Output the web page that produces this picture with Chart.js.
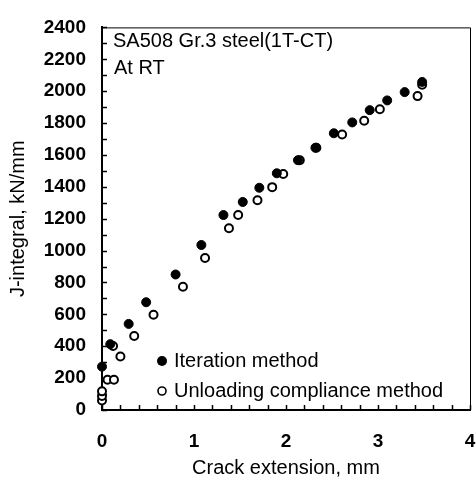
<!DOCTYPE html>
<html>
<head>
<meta charset="utf-8">
<script src="https://cdn.jsdelivr.net/npm/chart.js@4"></script>
<style>
  html, body { margin: 0; padding: 0; background: #fff; }
</style>
</head>
<body>
<canvas id="grafico" width="476" height="480"></canvas>
<script>
// Iteration method (filled circles)
const iterX = [0.00, 0.09, 0.29, 0.48, 0.80, 1.08, 1.32, 1.53, 1.71, 1.90, 2.13, 2.32, 2.52, 2.72, 2.91, 3.10, 3.29, 3.48];
const iterY = [272, 413, 540, 676, 850, 1035, 1223, 1305, 1394, 1485, 1567, 1645, 1736, 1804, 1881, 1942, 1994, 2058];

// Unloading compliance method (open circles)
const unlX = [0.00, 0.00, 0.00, 0.06, 0.13, 0.12, 0.20, 0.35, 0.56, 0.88, 1.12, 1.38, 1.48, 1.69, 1.85, 1.97, 2.15, 2.33, 2.61, 2.85, 3.02, 3.43, 3.48];
const unlY = [60, 88, 117, 190, 190, 402, 336, 464, 598, 773, 953, 1140, 1223, 1316, 1398, 1480, 1567, 1645, 1728, 1814, 1887, 1969, 2041];

const legendLabels = ['Iteration method', 'Unloading compliance method'];
const noteLines = ['SA508 Gr.3 steel(1T-CT)', 'At RT'];
const xTitle = 'Crack extension, mm';
const yTitle = 'J-integral, kN/mm';

const FONT = '"Liberation Sans", Arial, sans-serif';
Chart.defaults.font.family = FONT;
Chart.defaults.color = '#000';

function pares(xs, ys) {
    return xs.map((x, i) => ({ x: x, y: ys[i] }));
}

// ticks para dentro, borda fina em cima e na direita, legenda e texto
const extras = {
    id: 'extras',
    beforeDatasetsDraw(chart) {
        const { ctx, chartArea: a, scales: { x, y } } = chart;
        ctx.save();
        ctx.strokeStyle = '#000';
        ctx.lineWidth = 1.5;
        ctx.beginPath();
        x.ticks.forEach(t => {
            const px = Math.round(x.getPixelForValue(t.value)) + 0.5;
            ctx.moveTo(px, a.bottom);
            ctx.lineTo(px, a.bottom - 5);
        });
        y.ticks.forEach(t => {
            const py = Math.round(y.getPixelForValue(t.value)) + 0.5;
            ctx.moveTo(a.left, py);
            ctx.lineTo(a.left + 5, py);
        });
        ctx.stroke();
        ctx.lineWidth = 1;
        ctx.beginPath();
        ctx.moveTo(a.left, a.top + 0.5);
        ctx.lineTo(a.right + 0.5, a.top + 0.5);
        ctx.lineTo(a.right + 0.5, a.bottom);
        ctx.stroke();
        ctx.restore();
    },
    afterDraw(chart) {
        const { ctx } = chart;
        ctx.save();
        ctx.fillStyle = '#000';
        ctx.font = '20px ' + FONT;
        ctx.textBaseline = 'middle';
        ctx.textAlign = 'left';
        ctx.fillText(noteLines[0], 113, 41);
        ctx.fillText(noteLines[1], 114, 68);

        // legenda
        ctx.beginPath();
        ctx.arc(162, 361, 5, 0, Math.PI * 2);
        ctx.fill();
        ctx.beginPath();
        ctx.arc(162, 391, 4, 0, Math.PI * 2);
        ctx.lineWidth = 1.6;
        ctx.strokeStyle = '#000';
        ctx.stroke();
        ctx.fillText(legendLabels[0], 174, 361);
        ctx.fillText(legendLabels[1], 174, 391);
        ctx.restore();
    }
};

new Chart(document.getElementById('grafico').getContext('2d'), {
    type: 'scatter',
    data: {
        datasets: [{
            label: legendLabels[0],
            data: pares(iterX, iterY),
            backgroundColor: '#000',
            borderColor: '#000',
            borderWidth: 1,
            pointRadius: 4.5,
            clip: false
        }, {
            label: legendLabels[1],
            data: pares(unlX, unlY),
            backgroundColor: '#fff',
            borderColor: '#000',
            borderWidth: 2,
            pointRadius: 4,
            clip: false
        }]
    },
    options: {
        responsive: false,
        animation: false,
        devicePixelRatio: 1,
        layout: { padding: { top: 22, right: 2, bottom: 0, left: 0 } },
        plugins: {
            legend: { display: false },
            tooltip: { enabled: false }
        },
        scales: {
            x: {
                type: 'linear',
                min: 0,
                max: 4,
                grid: { display: false, drawTicks: false, tickLength: 0 },
                border: { display: true, color: '#000', width: 2 },
                ticks: {
                    stepSize: 0.2,
                    autoSkip: false,
                    maxRotation: 0,
                    padding: 20,
                    font: { size: 19, weight: 'bold' },
                    callback: v => Math.abs(v - Math.round(v)) < 1e-6 ? Math.round(v) : ''
                },
                title: {
                    display: true,
                    text: xTitle,
                    font: { size: 20 },
                    padding: { top: 0, bottom: 0 }
                },
                afterFit: s => { s.height = 70; s.paddingLeft = 0; s.paddingRight = 0; }
            },
            y: {
                min: 0,
                max: 2400,
                grid: { display: false, drawTicks: false, tickLength: 0 },
                border: { display: true, color: '#000', width: 2 },
                ticks: {
                    stepSize: 100,
                    autoSkip: false,
                    padding: 16,
                    font: { size: 19, weight: 'bold' },
                    callback: v => v % 200 === 0 ? v : ''
                },
                title: {
                    display: true,
                    text: yTitle,
                    font: { size: 20 },
                    padding: { top: 6, bottom: 0 }
                },
                afterFit: s => { s.width = 102; }
            }
        }
    },
    plugins: [extras]
});
</script>
</body>
</html>
